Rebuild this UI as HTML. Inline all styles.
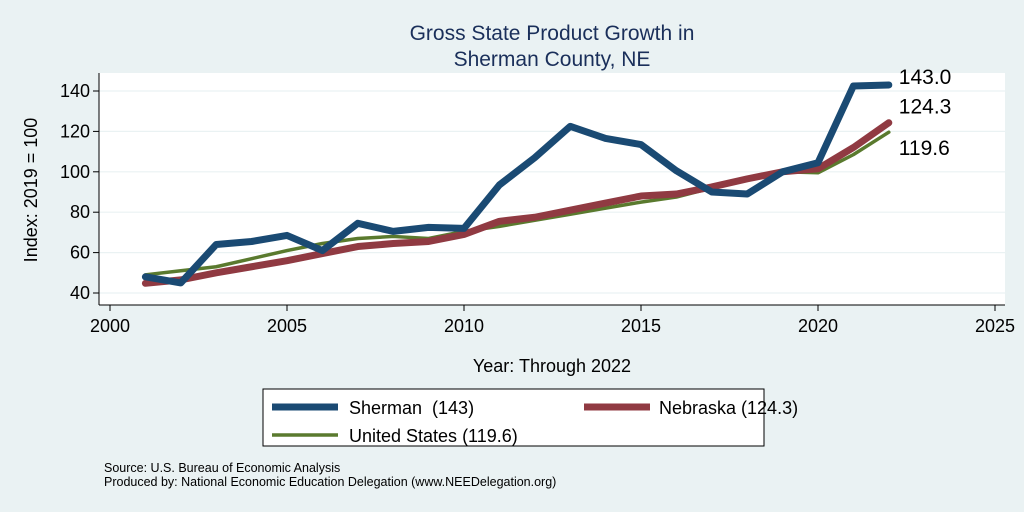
<!DOCTYPE html>
<html><head><meta charset="utf-8"><style>
body{margin:0;width:1024px;height:512px;background:#eaf2f3;overflow:hidden;font-family:"Liberation Sans",sans-serif}
svg{display:block}
</style></head><body>
<svg id="chart" width="1024" height="512">
<rect x="0" y="0" width="1024" height="512" fill="#eaf2f3"/>
<text x="552" y="40" text-anchor="middle" font-size="21" fill="#1a2f5a">Gross State Product Growth in</text>
<text x="552" y="66" text-anchor="middle" font-size="21" fill="#1a2f5a">Sherman County, NE</text>
<rect x="99" y="73" width="906" height="232" fill="#fff"/>
<g id="grid"></g>
<g id="axes"></g>
<g id="series"></g>
<text x="37" y="190" transform="rotate(-90 37 190)" text-anchor="middle" font-size="18" fill="#000">Index: 2019 = 100</text>
<text x="552" y="372" text-anchor="middle" font-size="18" fill="#000">Year: Through 2022</text>
<g>
<rect x="263" y="389" width="501" height="57" fill="#fff" stroke="#000" stroke-width="1"/>
<line x1="272" y1="407" x2="338" y2="407" stroke="#1a4a73" stroke-width="7"/>
<text x="349" y="414" font-size="18">Sherman&#160; (143)</text>
<line x1="584" y1="407" x2="650" y2="407" stroke="#903a42" stroke-width="7"/>
<text x="659" y="414" font-size="18">Nebraska (124.3)</text>
<line x1="272" y1="435" x2="338" y2="435" stroke="#5a7a2e" stroke-width="3.5"/>
<text x="349" y="442" font-size="18">United States (119.6)</text>
</g>
<text x="104" y="472" font-size="12.5">Source: U.S. Bureau of Economic Analysis</text>
<text x="104" y="486" font-size="12.5">Produced by: National Economic Education Delegation (www.NEEDelegation.org)</text>
</svg>
<script>
const years=[2001,2002,2003,2004,2005,2006,2007,2008,2009,2010,2011,2012,2013,2014,2015,2016,2017,2018,2019,2020,2021,2022];
const sherman=[48,45,64,65.5,68.5,61,74.5,70.5,72.5,72,93.5,107,122.5,116.5,113.5,100.5,90,89,100,104.5,142.5,143];
const nebraska=[44.8,46.5,50,53,56,59.5,63,64.5,65.5,69,75.5,77.5,81,84.5,88,89,92.5,96.5,100,101.5,112,124.3];
const us=[49,51,53,57,61,64.5,67,68,67,70.5,73,76,79,82,85,87.5,92,96,100,99.5,108.5,119.6];
const xTicks=[2000,2005,2010,2015,2020,2025];
const yTicks=[40,60,80,100,120,140];
const endLabels=["143.0","124.3","119.6"];
const NS='http://www.w3.org/2000/svg';
const X=v=>110+(v-2000)*35.4;
const Y=v=>293-(v-40)*2.02;
function mk(t,a,p){const e=document.createElementNS(NS,t);for(const k in a)e.setAttribute(k,a[k]);p.appendChild(e);return e;}
const grid=document.getElementById('grid'),axes=document.getElementById('axes'),ser=document.getElementById('series');
yTicks.forEach(v=>{
 const g=mk('line',{x1:99,x2:1005,y1:Y(v),y2:Y(v),stroke:'#eaf2f3','stroke-width':1.2},grid);
 
 
 const t=mk('line',{x1:93,x2:99,y1:Y(v),y2:Y(v),stroke:'#000'},axes);
 
 
 const l=mk('text',{x:90,y:Y(v)+6,'text-anchor':'end','font-size':18},axes);l.textContent=v;
 
 
});
xTicks.forEach(v=>{
 const t=mk('line',{x1:X(v),x2:X(v),y1:305,y2:311,stroke:'#000'},axes);
 
 
 const l=mk('text',{x:X(v),y:332,'text-anchor':'middle','font-size':18},axes);l.textContent=v;
 
 
});
const ax=mk('line',{x1:99,x2:99,y1:73,y2:305,stroke:'#000'},axes);


const bx=mk('line',{x1:99,x2:1005,y1:305,y2:305,stroke:'#000'},axes);


const defs=[[us,'#5a7a2e',3.5,'line-us'],[nebraska,'#903a42',7,'line-nebraska'],[sherman,'#1a4a73',7,'line-sherman']];
defs.forEach(([d,c,w,n])=>{
 const p=mk('polyline',{points:d.map((v,i)=>X(years[i])+','+Y(v)).join(' '),fill:'none',stroke:c,'stroke-width':w,'stroke-linejoin':'round','stroke-linecap':'round'},ser);
 
 
});
const last=years.length-1;
[[sherman[last],-1,endLabels[0]],[nebraska[last],-9,endLabels[1]],[us[last],23,endLabels[2]]].forEach(([v,dy,s])=>{
 const t=mk('text',{x:X(years[last])+10,y:Y(v)+dy,'font-size':21},ser);t.textContent=s;
 
 
});
</script>
</body></html>
